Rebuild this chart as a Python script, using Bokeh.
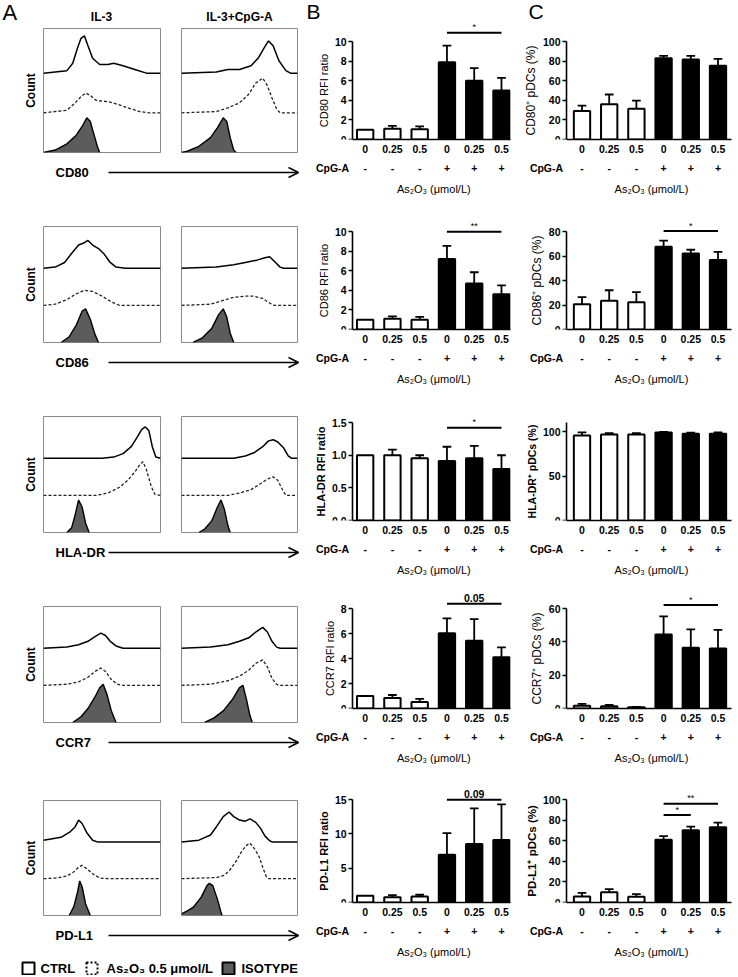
from bokeh.plotting import figure
from bokeh.layouts import row, column
from bokeh.models import Range1d, LinearAxis, FixedTicker, Arrow, OpenHead, NumeralTickFormatter
from bokeh.core.properties import value
from bokeh.embed import file_html
from bokeh.resources import INLINE

FONT = "Liberation Sans"

# ------------------------------------------------------------------ data
DOSES = ["0", "0.25", "0.5", "0", "0.25", "0.5"]
CPG = ["-", "-", "-", "+", "+", "+"]
MARKERS = ["CD80", "CD86", "HLA-DR", "CCR7", "PD-L1"]
CONDITIONS = ["IL-3", "IL-3+CpG-A"]

# Panel B: RFI ratio (mean, SEM)
RFI_CD80 = [1.0, 1.1, 1.05, 7.9, 6.0, 5.0]
RFI_CD80_SEM = [0, 0.3, 0.3, 1.7, 1.3, 1.3]
RFI_CD86 = [1.0, 1.1, 1.0, 7.2, 4.7, 3.6]
RFI_CD86_SEM = [0, 0.25, 0.3, 1.35, 1.15, 0.9]
RFI_HLADR = [1.0, 1.0, 0.955, 0.91, 0.955, 0.79]
RFI_HLADR_SEM = [0, 0.085, 0.045, 0.22, 0.19, 0.21]
RFI_CCR7 = [1.0, 0.84, 0.53, 6.02, 5.42, 4.1]
RFI_CCR7_SEM = [0, 0.24, 0.24, 1.2, 1.74, 0.8]
RFI_PDL1 = [1.0, 0.77, 0.86, 6.96, 8.54, 9.13]
RFI_PDL1_SEM = [0, 0.31, 0.27, 3.15, 5.2, 5.2]

RFI_YMAX = [10, 10, 1.5, 8, 15]
RFI_YTICKS = [[0, 2, 4, 6, 8, 10], [0, 2, 4, 6, 8, 10], [0, 0.5, 1.0, 1.5],
              [0, 2, 4, 6, 8], [0, 5, 10, 15]]
RFI_LABELS = ["CD80 RFI ratio", "CD86 RFI ratio", "HLA-DR RFI ratio",
              "CCR7 RFI ratio", "PD-L1 RFI ratio"]
RFI_SIG = [[(3, 5, 10.9, "*")], [(3, 5, 10.0, "**")], [(3, 5, 1.42, "*")],
           [(3, 5, 8.4, "0.05")], [(3, 5, 15.0, "0.09")]]

# Panel C: % positive pDCs (mean, SEM)
PCT_CD80 = [29, 36, 31.5, 83, 81.8, 75.3]
PCT_CD80_SEM = [5.6, 10, 8.3, 2.5, 3.7, 7.1]
PCT_CD86 = [20.7, 23.5, 22.2, 67.7, 62.2, 56.8]
PCT_CD86_SEM = [5.7, 8.6, 8.4, 4.9, 3.0, 6.7]
PCT_HLADR = [95.5, 96.6, 96.6, 99, 97.6, 97.6]
PCT_HLADR_SEM = [3.5, 1.7, 1.7, 0.7, 1.0, 1.5]
PCT_CCR7 = [1.65, 1.28, 0.73, 44.4, 36.5, 36.1]
PCT_CCR7_SEM = [1.1, 0.9, 0.2, 11, 11, 11.1]
PCT_PDL1 = [5.8, 9.9, 5.5, 61, 70.3, 73.3]
PCT_PDL1_SEM = [3.5, 3.2, 2.6, 3.5, 3.5, 4.3]

PCT_YMAX = [100, 80, 110, 60, 100]
PCT_YTICKS = [[0, 20, 40, 60, 80, 100], [0, 20, 40, 60, 80], [0, 50, 100],
              [0, 20, 40, 60], [0, 20, 40, 60, 80, 100]]
PCT_LABELS = ["CD80\u207a pDCs (%)", "CD86\u207a pDCs (%)", "HLA-DR\u207a pDCs (%)",
              "CCR7\u207a pDCs (%)", "PD-L1\u207a pDCs (%)"]
PCT_SIG = [[], [(3, 5, 80.5, "*")], [], [(3, 5, 62.2, "*")],
           [(3, 4, 85, "*"), (3, 5, 96, "**")]]

LABEL_BOLD = [False, False, True, False, True]
X_TITLE = "As\u2082O\u2083 (\u03bcmol/L)"
CPG_TITLE = "CpG-A"

# Panel A: histograms, (x position, height) in box fractions
CD80_IL3_CTRL = [(0, 0), (0.2, 0.02), (0.25, 0.08), (0.29, 0.2), (0.32, 0.28), (0.35, 0.3), (0.38, 0.22),
                 (0.42, 0.12), (0.48, 0.07), (0.55, 0.07), (0.6, 0.08), (0.68, 0.06), (0.78, 0.03), (0.88, 0), (1, 0)]
CD80_IL3_AS = [(0, 0), (0.2, 0.02), (0.27, 0.08), (0.32, 0.13), (0.36, 0.16), (0.4, 0.14), (0.45, 0.1),
               (0.55, 0.09), (0.63, 0.07), (0.72, 0.04), (0.82, 0.01), (0.9, 0), (1, 0)]
CD80_IL3_ISO = [(0, 0), (0.1, 0.02), (0.2, 0.07), (0.28, 0.14), (0.33, 0.21), (0.37, 0.28), (0.4, 0.25),
                (0.43, 0.15), (0.46, 0.05), (0.48, 0)]
CD80_CPG_CTRL = [(0, 0), (0.3, 0.01), (0.4, 0.03), (0.5, 0.03), (0.6, 0.06), (0.66, 0.12), (0.71, 0.2),
                 (0.75, 0.26), (0.79, 0.22), (0.84, 0.1), (0.9, 0.02), (0.94, 0), (1, 0)]
CD80_CPG_AS = [(0, 0), (0.3, 0.01), (0.4, 0.04), (0.5, 0.08), (0.58, 0.15), (0.64, 0.24), (0.7, 0.28),
               (0.74, 0.22), (0.78, 0.12), (0.82, 0.03), (0.85, 0), (1, 0)]
CD80_CPG_ISO = [(0, 0), (0.05, 0.01), (0.15, 0.05), (0.25, 0.12), (0.31, 0.2), (0.36, 0.28), (0.39, 0.25),
                (0.42, 0.12), (0.45, 0.02), (0.47, 0)]

CD86_IL3_CTRL = [(0, 0), (0.1, 0.01), (0.18, 0.05), (0.25, 0.14), (0.3, 0.2), (0.35, 0.22), (0.38, 0.24),
                 (0.42, 0.2), (0.47, 0.17), (0.52, 0.12), (0.57, 0.05), (0.62, 0.01), (0.7, 0), (1, 0)]
CD86_IL3_AS = [(0, 0), (0.1, 0.01), (0.2, 0.05), (0.28, 0.1), (0.35, 0.13), (0.42, 0.12), (0.5, 0.08),
               (0.58, 0.03), (0.65, 0), (1, 0)]
CD86_IL3_ISO = [(0.15, 0), (0.22, 0.05), (0.28, 0.15), (0.33, 0.27), (0.36, 0.29), (0.4, 0.2), (0.44, 0.07),
                (0.47, 0)]
CD86_CPG_CTRL = [(0, 0), (0.3, 0.01), (0.45, 0.03), (0.55, 0.05), (0.65, 0.07), (0.72, 0.09), (0.76, 0.1),
                 (0.8, 0.06), (0.85, 0.01), (0.88, 0), (1, 0)]
CD86_CPG_AS = [(0, 0), (0.25, 0.01), (0.35, 0.04), (0.45, 0.07), (0.55, 0.08), (0.62, 0.08), (0.7, 0.06),
               (0.76, 0.02), (0.8, 0), (1, 0)]
CD86_CPG_ISO = [(0.1, 0), (0.18, 0.04), (0.26, 0.12), (0.32, 0.24), (0.36, 0.29), (0.39, 0.22), (0.42, 0.08),
                (0.45, 0)]

HLADR_IL3_CTRL = [(0, 0), (0.5, 0), (0.6, 0.01), (0.68, 0.04), (0.75, 0.1), (0.8, 0.18), (0.84, 0.25),
                  (0.87, 0.27), (0.9, 0.24), (0.93, 0.1), (0.96, 0.01), (1, 0)]
HLADR_IL3_AS = [(0, 0), (0.45, 0), (0.55, 0.02), (0.65, 0.07), (0.72, 0.13), (0.78, 0.2), (0.82, 0.26),
                (0.85, 0.29), (0.88, 0.22), (0.92, 0.08), (0.95, 0.01), (1, 0)]
HLADR_IL3_ISO = [(0.2, 0), (0.24, 0.04), (0.27, 0.15), (0.3, 0.28), (0.33, 0.22), (0.36, 0.08), (0.39, 0)]
HLADR_CPG_CTRL = [(0, 0), (0.45, 0), (0.55, 0.02), (0.63, 0.05), (0.7, 0.1), (0.75, 0.15), (0.79, 0.16),
                  (0.83, 0.14), (0.88, 0.09), (0.92, 0.02), (0.95, 0), (1, 0)]
HLADR_CPG_AS = [(0, 0), (0.4, 0), (0.5, 0.02), (0.6, 0.05), (0.68, 0.1), (0.74, 0.14), (0.79, 0.16),
                (0.83, 0.13), (0.87, 0.05), (0.9, 0), (1, 0)]
HLADR_CPG_ISO = [(0.15, 0), (0.2, 0.03), (0.26, 0.1), (0.31, 0.22), (0.34, 0.28), (0.37, 0.2), (0.4, 0.06),
                 (0.42, 0)]

CCR7_IL3_CTRL = [(0, 0), (0.2, 0.01), (0.3, 0.03), (0.38, 0.06), (0.44, 0.1), (0.49, 0.13), (0.53, 0.11),
                 (0.57, 0.06), (0.62, 0.02), (0.68, 0), (1, 0)]
CCR7_IL3_AS = [(0, 0), (0.2, 0.01), (0.3, 0.03), (0.38, 0.07), (0.44, 0.12), (0.49, 0.15), (0.53, 0.12),
               (0.58, 0.05), (0.63, 0.01), (0.68, 0), (1, 0)]
CCR7_IL3_ISO = [(0.25, 0), (0.32, 0.05), (0.38, 0.12), (0.44, 0.22), (0.48, 0.3), (0.51, 0.33), (0.54, 0.25),
                (0.58, 0.1), (0.62, 0)]
CCR7_CPG_CTRL = [(0, 0), (0.25, 0.01), (0.4, 0.03), (0.5, 0.06), (0.58, 0.09), (0.64, 0.14), (0.7, 0.18),
                 (0.74, 0.14), (0.78, 0.06), (0.82, 0.01), (0.85, 0), (1, 0)]
CCR7_CPG_AS = [(0, 0), (0.25, 0.01), (0.4, 0.04), (0.5, 0.08), (0.58, 0.13), (0.64, 0.19), (0.7, 0.22),
               (0.74, 0.16), (0.78, 0.06), (0.82, 0.01), (0.84, 0), (1, 0)]
CCR7_CPG_ISO = [(0.2, 0), (0.28, 0.04), (0.36, 0.1), (0.44, 0.2), (0.5, 0.3), (0.53, 0.32), (0.56, 0.2),
                (0.59, 0.06), (0.61, 0)]

PDL1_IL3_CTRL = [(0, 0.015), (0.15, 0.04), (0.23, 0.09), (0.27, 0.13), (0.3, 0.19), (0.33, 0.16), (0.37, 0.08),
                 (0.42, 0.015), (0.46, 0), (1, 0)]
PDL1_IL3_AS = [(0, 0), (0.1, 0.005), (0.2, 0.023), (0.26, 0.06), (0.3, 0.1), (0.33, 0.116), (0.37, 0.087),
               (0.42, 0.043), (0.48, 0.006), (0.55, 0), (1, 0)]
PDL1_IL3_ISO = [(0.22, 0), (0.26, 0.08), (0.29, 0.2), (0.31, 0.3), (0.33, 0.25), (0.36, 0.1), (0.4, 0)]
PDL1_CPG_CTRL = [(0, 0), (0.15, 0.015), (0.25, 0.06), (0.3, 0.13), (0.36, 0.22), (0.41, 0.26), (0.45, 0.22),
                 (0.5, 0.19), (0.55, 0.18), (0.59, 0.2), (0.64, 0.17), (0.68, 0.12), (0.72, 0.05), (0.76, 0.01),
                 (0.78, 0), (1, 0)]
PDL1_CPG_AS = [(0, 0), (0.3, 0.01), (0.37, 0.03), (0.42, 0.08), (0.47, 0.15), (0.52, 0.24), (0.56, 0.29),
               (0.59, 0.31), (0.63, 0.26), (0.67, 0.19), (0.7, 0.1), (0.73, 0.02), (0.75, 0), (1, 0)]
PDL1_CPG_ISO = [(0, 0.015), (0.05, 0.04), (0.1, 0.07), (0.17, 0.16), (0.22, 0.26), (0.24, 0.28), (0.27, 0.26),
                (0.31, 0.14), (0.34, 0.03), (0.35, 0)]

LEGEND = ["CTRL", "As\u2082O\u2083 0.5 \u03bcmol/L", "ISOTYPE"]

# ------------------------------------------------------------------ layout (pixel units)
LANES = [0.0, 0.32, 0.64]
HEADER_H = 23
STRIP_TOP = [23, 197, 387, 578, 766]
STRIP_BOT = [197, 387, 578, 766, 960]
BOX_TOP = [28, 226, 416, 606, 800]
BOX_BOT = [152, 342, 532, 722, 915]
AX_TOP = [43, 233, 424, 610, 801]
AX_BOT = [151, 341, 532, 720, 914]
EXTRA = 20
UNIT = 27.2     # px per category
W_TOTAL = 737
H_LEG_BOT = 975
RFI_LABEL_SIZE = ["11px", "11px", "11px", "11px", "11px"]
PCT_LABEL_SIZE = ["12px", "12px", "10.5px", "12px", "11.5px"]


def base_fig(w, h, xr, yr, l=0, r=0, t=0, b=0):
    p = figure(width=int(w), height=int(h), x_range=xr, y_range=yr, output_backend="svg",
               toolbar_location=None, title=None, min_border_left=int(l), min_border_right=int(r),
               min_border_top=int(t), min_border_bottom=int(b))
    p.grid.visible = False
    p.outline_line_color = None
    p.background_fill_color = "white"
    p.border_fill_color = "white"
    return p


def txt(p, x, y, t, size, bold=False, align="left", baseline="bottom"):
    p.text(x=[x], y=[y], text=[t], text_font=value(FONT), text_font_size=value(size),
           text_font_style="bold" if bold else "normal", text_align=align,
           text_baseline=baseline, text_color="black")


def hist_fig(i, k, curves):
    top, bot = STRIP_TOP[i], BOX_BOT[i] + 2
    if k == 0:
        x0, x1, fl, fr = 0, 170, 43, 160
    else:
        x0, x1, fl, fr = 170, 300, 181, 297
    p = base_fig(x1 - x0, bot - top, Range1d(0, 1), Range1d(0, 1),
                 l=fl - x0, r=x1 - fr, t=BOX_TOP[i] - top, b=bot - BOX_BOT[i])
    p.outline_line_color = "#8a8a8a"
    p.outline_line_width = 1
    p.xaxis.visible = False
    if k == 0:
        ya = p.yaxis[0]
        ya.ticker = FixedTicker(ticks=[])
        ya.axis_line_color = None
        ya.major_tick_line_color = None
        ya.minor_tick_line_color = None
        ya.axis_label = "Count"
        ya.axis_label_text_font = FONT
        ya.axis_label_text_font_size = "12px"
        ya.axis_label_text_font_style = "bold"
        ya.axis_label_text_color = "black"
        ya.axis_label_standoff = 6
    else:
        p.yaxis.visible = False
    ctrl, ars, iso = curves
    ix = [q[0] for q in iso]
    iy = [q[1] for q in iso]
    p.varea(x=ix, y1=0, y2=iy, fill_color="#5c5c5c")
    p.line(ix, iy, line_color="black", line_width=1.4)
    p.line([q[0] for q in ars], [LANES[1] + q[1] for q in ars], line_color="#222222",
           line_width=1.3, line_dash="3 2")
    p.line([q[0] for q in ctrl], [LANES[2] + q[1] for q in ctrl], line_color="black", line_width=1.5)
    return p


def marker_fig(i, name):
    top, bot = BOX_BOT[i] + 2, STRIP_BOT[i]
    p = base_fig(300, bot - top, Range1d(0, 300), Range1d(bot, top))
    p.axis.visible = False
    ly = BOX_BOT[i] + 20
    txt(p, 55, ly, name, "13px", bold=True, baseline="middle")
    p.add_layout(Arrow(end=OpenHead(size=10, line_width=1.5, line_color="black"),
                       x_start=108, y_start=ly, x_end=298, y_end=ly,
                       line_width=1.5, line_color="black"))
    return p


def bar_fig(i, x0, x1, c0, ax_px, fr, cpg_px, title_px, means, sems, ymax, ticks, ylabel, sigs,
            label_size):
    top, bot = STRIP_TOP[i], STRIP_BOT[i]
    ftop = AX_TOP[i] - EXTRA
    y_end = ymax * (AX_BOT[i] - ftop) / (AX_BOT[i] - AX_TOP[i])
    per_px = ymax / (AX_BOT[i] - AX_TOP[i])
    fl = x0 + 2
    xr = Range1d((fl - c0) / UNIT, (fr - c0) / UNIT)
    ax_x = (ax_px - c0) / UNIT
    p = base_fig(x1 - x0, bot - top, xr, Range1d(0, y_end),
                 l=fl - x0, r=x1 - fr, t=ftop - top, b=bot - AX_BOT[i])
    xs = list(range(len(means)))
    fills = ["white" if c == "-" else "black" for c in CPG]
    ex = [x for x, s in zip(xs, sems) if s > 0]
    et = [m for m, s in zip(means, sems) if s > 0]
    ec = [m + s for m, s in zip(means, sems) if s > 0]
    p.segment(x0=ex, y0=et, x1=ex, y1=ec, line_color="black", line_width=1.8)
    p.segment(x0=[x - 0.16 for x in ex], y0=ec, x1=[x + 0.16 for x in ex], y1=ec,
              line_color="black", line_width=1.8)
    p.vbar(x=xs, top=means, width=0.6, fill_color=fills, line_color="black", line_width=2)
    for (a, b, y, t) in sigs:
        p.segment(x0=[a], y0=[y], x1=[b], y1=[y], line_color="black", line_width=2)
        if t.startswith("*"):
            txt(p, (a + b) / 2, y + 0.5 * per_px, t, "9px", align="center", baseline="bottom")
        else:
            txt(p, (a + b) / 2, y + 1.5 * per_px, t, "10.5px", bold=True, align="center",
                baseline="bottom")

    ya = p.yaxis[0]
    ya.fixed_location = ax_x
    ya.ticker = FixedTicker(ticks=ticks)
    ya.bounds = (0, ymax)
    if ymax < 2:
        ya.formatter = NumeralTickFormatter(format="0.0")
    ya.axis_label = ylabel
    ya.axis_label_text_font = FONT
    ya.axis_label_text_font_size = label_size
    ya.axis_label_text_font_style = "bold" if LABEL_BOLD[i] else "normal"
    ya.axis_label_text_color = "black"
    ya.axis_label_standoff = 2
    ya.major_label_text_font = FONT
    ya.major_label_text_font_style = "bold"
    ya.major_label_text_font_size = "10.5px"
    ya.major_label_text_color = "black"
    ya.major_label_standoff = 2
    ya.major_tick_out = 4
    ya.major_tick_in = 0
    ya.axis_line_width = 1.6
    ya.major_tick_line_width = 1.6

    xa = p.xaxis[0]
    xa.ticker = FixedTicker(ticks=xs)
    xa.bounds = (ax_x, xr.end)
    xa.major_label_overrides = {j: d for j, d in enumerate(DOSES)}
    xa.major_tick_out = 0
    xa.major_tick_in = 0
    xa.axis_line_width = 1.6
    xa.major_label_standoff = 5
    xa.major_label_text_font = FONT
    xa.major_label_text_font_style = "bold"
    xa.major_label_text_font_size = "10.5px"
    xa.major_label_text_color = "black"

    cpg_x = (cpg_px - c0) / UNIT
    overrides = {j: c for j, c in enumerate(CPG)}
    overrides[cpg_x] = CPG_TITLE
    xa2 = LinearAxis(ticker=FixedTicker(ticks=[cpg_x] + xs), major_label_overrides=overrides,
                     axis_line_color=None, major_tick_line_color=None, minor_tick_line_color=None,
                     major_label_standoff=0, major_label_text_font=FONT, major_label_text_color="black",
                     major_label_text_font_style="bold", major_label_text_font_size="10.5px")
    p.add_layout(xa2, "below")
    t_x = (title_px - c0) / UNIT
    xa3 = LinearAxis(ticker=FixedTicker(ticks=[t_x]), major_label_overrides={t_x: X_TITLE},
                     axis_line_color=None, major_tick_line_color=None, minor_tick_line_color=None,
                     major_label_standoff=0, major_label_text_font=FONT, major_label_text_color="black",
                     major_label_text_font_style="normal", major_label_text_font_size="11px")
    p.add_layout(xa3, "below")
    return p


HISTS = [
    [(CD80_IL3_CTRL, CD80_IL3_AS, CD80_IL3_ISO), (CD80_CPG_CTRL, CD80_CPG_AS, CD80_CPG_ISO)],
    [(CD86_IL3_CTRL, CD86_IL3_AS, CD86_IL3_ISO), (CD86_CPG_CTRL, CD86_CPG_AS, CD86_CPG_ISO)],
    [(HLADR_IL3_CTRL, HLADR_IL3_AS, HLADR_IL3_ISO), (HLADR_CPG_CTRL, HLADR_CPG_AS, HLADR_CPG_ISO)],
    [(CCR7_IL3_CTRL, CCR7_IL3_AS, CCR7_IL3_ISO), (CCR7_CPG_CTRL, CCR7_CPG_AS, CCR7_CPG_ISO)],
    [(PDL1_IL3_CTRL, PDL1_IL3_AS, PDL1_IL3_ISO), (PDL1_CPG_CTRL, PDL1_CPG_AS, PDL1_CPG_ISO)],
]
RFI = [(RFI_CD80, RFI_CD80_SEM), (RFI_CD86, RFI_CD86_SEM), (RFI_HLADR, RFI_HLADR_SEM),
       (RFI_CCR7, RFI_CCR7_SEM), (RFI_PDL1, RFI_PDL1_SEM)]
PCT = [(PCT_CD80, PCT_CD80_SEM), (PCT_CD86, PCT_CD86_SEM), (PCT_HLADR, PCT_HLADR_SEM),
       (PCT_CCR7, PCT_CCR7_SEM), (PCT_PDL1, PCT_PDL1_SEM)]

# header
header = base_fig(W_TOTAL, HEADER_H, Range1d(0, W_TOTAL), Range1d(HEADER_H, 0))
header.axis.visible = False
txt(header, 2, 11.5, "A", "22px", baseline="middle")
txt(header, 306, 11, "B", "21px", baseline="middle")
txt(header, 528, 11, "C", "21px", baseline="middle")
txt(header, 101, 16, CONDITIONS[0], "12px", bold=True, align="center", baseline="middle")
txt(header, 239, 16, CONDITIONS[1], "12px", bold=True, align="center", baseline="middle")

rows = [header]
for i in range(5):
    h1 = hist_fig(i, 0, HISTS[i][0])
    h2 = hist_fig(i, 1, HISTS[i][1])
    mk = marker_fig(i, MARKERS[i])
    a = column(row(h1, h2, spacing=0), mk, spacing=0)
    b = bar_fig(i, 300, 520, 364.5, 352, 509.5, 332, 433, RFI[i][0], RFI[i][1], RFI_YMAX[i],
                RFI_YTICKS[i], RFI_LABELS[i], RFI_SIG[i], RFI_LABEL_SIZE[i])
    c = bar_fig(i, 520, W_TOTAL, 581.5, 566, 731, 546, 651, PCT[i][0], PCT[i][1], PCT_YMAX[i],
                PCT_YTICKS[i], PCT_LABELS[i], PCT_SIG[i], PCT_LABEL_SIZE[i])
    rows.append(row(a, b, c, spacing=0))

# legend
leg = base_fig(W_TOTAL, H_LEG_BOT - 960, Range1d(0, W_TOTAL), Range1d(H_LEG_BOT, 960))
leg.axis.visible = False
leg.rect(x=[28], y=[968], width=12, height=12, fill_color="white", line_color="black", line_width=2)
leg.rect(x=[91.5], y=[968], width=11, height=12, fill_color="white", line_color="black",
         line_width=2, line_dash="2 2")
leg.rect(x=[228], y=[968], width=12, height=12, fill_color="#5c5c5c", line_color="black", line_width=2)
txt(leg, 40, 968, LEGEND[0], "13px", bold=True, baseline="middle")
txt(leg, 106, 968, LEGEND[1], "13px", bold=True, baseline="middle")
txt(leg, 241, 968, LEGEND[2], "13px", bold=True, baseline="middle")
rows.append(leg)

layout = column(*rows, spacing=0)
open("out.html", "w").write(file_html(layout, INLINE))
